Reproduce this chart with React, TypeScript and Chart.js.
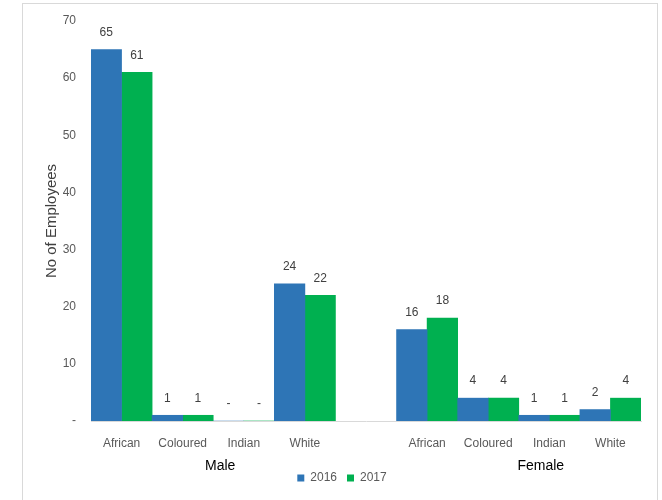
import React, { useEffect, useRef } from "react";
import { Chart, registerables } from "chart.js";

Chart.register(...registerables);

const categories = ["African", "Coloured", "Indian", "White", "", "African", "Coloured", "Indian", "White"];
const groupNames = ["Male", "Female"];
const groupStart = [0, 5];
const groupEnd = [3, 8];
const series2016: (number | null)[] = [65, 1, 0, 24, null, 16, 4, 1, 2];
const series2017: (number | null)[] = [61, 1, 0, 22, null, 18, 4, 1, 4];
const seriesNames = ["2016", "2017"];
const yMin = 0;
const yMax = 70;
const yStep = 10;

const FONT = "'Liberation Sans', Arial, sans-serif";

const labelPlugin = {
  id: "labelsPlugin",
  afterDatasetsDraw(chart: any) {
    const ctx = chart.ctx;
    ctx.save();
    ctx.font = `12px ${FONT}`;
    ctx.fillStyle = "#404040";
    ctx.textAlign = "center";
    ctx.textBaseline = "middle";
    chart.data.datasets.forEach((ds: any, di: number) => {
      const meta = chart.getDatasetMeta(di);
      meta.data.forEach((el: any, i: number) => {
        const v = ds.data[i];
        if (v === null || v === undefined) return;
        ctx.fillText(v === 0 ? "-" : String(v), el.x, el.y - 17);
      });
    });
    ctx.restore();
  },
  afterDraw(chart: any) {
    const ctx = chart.ctx;
    const xs = chart.scales.x;
    const bottom = chart.chartArea.bottom;
    ctx.save();
    ctx.font = `14px ${FONT}`;
    ctx.fillStyle = "#000000";
    ctx.textAlign = "center";
    ctx.textBaseline = "middle";
    const offsets = [7, 22];
    groupNames.forEach((g, gi) => {
      const x = (xs.getPixelForValue(groupStart[gi]) + xs.getPixelForValue(groupEnd[gi])) / 2 + offsets[gi];
      ctx.fillText(g, x, bottom + 45);
    });
    ctx.restore();
  },
};

export default function App() {
  const ref = useRef<HTMLCanvasElement>(null);
  useEffect(() => {
    if (!ref.current) return;
    const chart = new Chart(ref.current, {
      type: "bar",
      data: {
        labels: categories,
        datasets: [
          { label: seriesNames[0], data: series2016, backgroundColor: "#2E75B6", borderWidth: 0, categoryPercentage: 1, barPercentage: 1 },
          { label: seriesNames[1], data: series2017, backgroundColor: "#00B050", borderWidth: 0, categoryPercentage: 1, barPercentage: 1 },
        ],
      },
      options: {
        responsive: false,
        animation: false,
        layout: { padding: { top: 17, right: 16, left: 20, bottom: 8 } },
        plugins: {
          legend: {
            position: "bottom",
            labels: {
              boxWidth: 7,
              boxHeight: 7,
              padding: 10,
              color: "#595959",
              font: { family: FONT, size: 12 },
            },
          },
          tooltip: { enabled: false },
        },
        scales: {
          x: {
            grid: { display: false, drawTicks: false },
            border: { display: true, color: "#d9d9d9", width: 1 },
            ticks: { color: "#595959", font: { family: FONT, size: 12 }, padding: 15, maxRotation: 0, autoSkip: false },
            afterFit(scale: any) {
              scale.height = 41;
            },
          },
          y: {
            min: yMin,
            max: yMax,
            grid: { display: false, drawTicks: true, tickLength: 13 },
            border: { display: false },
            ticks: {
              stepSize: yStep,
              color: "#595959",
              font: { family: FONT, size: 12 },
              padding: 2,
              callback: (v: any) => (Number(v) === 0 ? "-" : String(v)),
            },
            title: {
              display: true,
              text: "No of Employees",
              color: "#404040",
              font: { family: FONT, size: 15 },
              padding: 0,
            },
            afterFit(scale: any) {
              scale.width = 48;
            },
          },
        },
      },
      plugins: [labelPlugin],
    });
    return () => chart.destroy();
  }, []);
  return (
    <div
      style={{
        position: "absolute",
        left: 22,
        top: 3,
        width: 636,
        height: 500,
        border: "1px solid #d9d9d9",
        boxSizing: "border-box",
        background: "#fff",
      }}
    >
      <canvas ref={ref} width={634} height={498} style={{ display: "block" }} />
    </div>
  );
}
